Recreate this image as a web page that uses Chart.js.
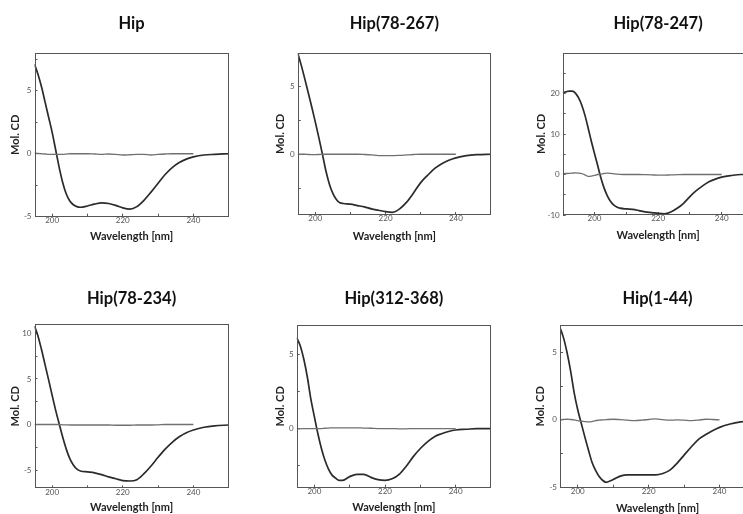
<!DOCTYPE html>
<html>
<head>
<meta charset="utf-8">
<script src="https://cdn.jsdelivr.net/npm/chart.js@4.4.0/dist/chart.umd.min.js"></script>
<style>
  html, body { margin: 0; padding: 0; background: #fff; overflow: hidden; }
  body { width: 743px; height: 514px; position: relative; }
  canvas { position: absolute; }
</style>
</head>
<body>
<canvas id="c1"></canvas>
<canvas id="c2"></canvas>
<canvas id="c3"></canvas>
<canvas id="c4"></canvas>
<canvas id="c5"></canvas>
<canvas id="c6"></canvas>
<script>
// Wavelengths (nm) the spectra are read at
const wavelengths = [195,196,197,198,199,200,201,202,203,204,205,206,207,208,210,212,214,216,218,220,222,224,226,228,230,232,234,236,238,240,243,246,250];
const wavelengths190 = [190,191,192,193,194,195,196,197,198,199,200,201,202,203,204,205,206,207,208,210,212,214,216,218,220,222,224,226,228,230,232,234,236,238,240,243,246,250];

// Mol. CD spectra (dark line) and buffer baselines (grey line)
const hipCD      = [7.1,6.3,5.3,4.1,2.9,1.7,0.3,-1.1,-2.3,-3.2,-3.75,-4.05,-4.2,-4.25,-4.15,-4.0,-3.9,-3.95,-4.1,-4.3,-4.4,-4.2,-3.7,-3.05,-2.35,-1.65,-1.1,-0.7,-0.43,-0.25,-0.1,-0.05,0];
const hipBase    = [0.05,0.02,0,-0.02,-0.05,-0.05,-0.05,-0.05,-0.05,-0.03,0,0,0,0,0,-0.02,-0.05,-0.02,-0.05,-0.1,-0.08,-0.05,-0.05,-0.1,-0.05,-0.02,0,0,0,0,null,null,null];

const hip78_267CD   = [7.5,6.6,5.6,4.55,3.5,2.4,1.25,0.05,-1.2,-2.2,-2.9,-3.35,-3.6,-3.65,-3.7,-3.8,-3.9,-4.05,-4.15,-4.25,-4.3,-4.05,-3.55,-2.85,-2.1,-1.55,-1.05,-0.7,-0.45,-0.27,-0.1,-0.03,0];
const hip78_267Base = [0,0,0,-0.02,-0.03,-0.03,-0.02,0,0,0,0,0,0,0,0,0,-0.02,-0.05,-0.1,-0.1,-0.1,-0.08,-0.05,-0.02,0,0,0,0,0,0,null,null,null];

const hip78_247CD   = [20.2,20.4,20.6,20.6,20.1,18.9,17.1,14.6,11.5,8.2,5.2,2.2,-0.8,-3.3,-5.2,-6.6,-7.5,-8.0,-8.3,-8.5,-8.6,-8.9,-9.25,-9.4,-9.6,-9.7,-9.25,-8.35,-7.1,-5.45,-4.0,-2.8,-1.8,-1.15,-0.65,-0.25,0,0];
const hip78_247Base = [0.2,0.25,0.3,0.35,0.4,0.35,0.2,-0.1,-0.45,-0.4,-0.2,0,0.1,0.25,0.35,0.3,0.2,0.1,0.05,0,0,0,-0.05,-0.1,-0.15,-0.15,-0.1,-0.05,0,0,0,0,0,0,0,null,null,null];

const hip78_234CD   = [10.8,9.7,8.2,6.55,4.9,3.2,1.55,0.05,-1.4,-2.7,-3.75,-4.45,-4.9,-5.1,-5.2,-5.3,-5.5,-5.75,-5.95,-6.15,-6.2,-6.05,-5.4,-4.55,-3.6,-2.7,-1.95,-1.35,-0.9,-0.6,-0.3,-0.15,-0.05];
const hip78_234Base = [0,0,0,0,0,0,0,0,-0.03,-0.03,-0.05,-0.05,-0.05,-0.05,-0.05,-0.05,-0.05,-0.05,-0.08,-0.08,-0.08,-0.05,-0.05,-0.05,-0.03,0,0,0,0,0,null,null,null];

const hip312_368CD   = [6.15,5.6,4.7,3.5,2.0,0.8,-0.35,-1.35,-2.15,-2.75,-3.15,-3.35,-3.5,-3.5,-3.25,-3.1,-3.1,-3.3,-3.45,-3.5,-3.4,-3.1,-2.55,-1.9,-1.35,-0.9,-0.55,-0.35,-0.2,-0.1,-0.05,0,0];
const hip312_368Base = [-0.02,-0.02,0,0,0,0,0,0,0.02,0.03,0.05,0.05,0.05,0.05,0.05,0.05,0.03,0.02,0,0,0,-0.02,-0.02,0,0,0,0,0,0,0,null,null,null];

const hip1_44CD   = [6.8,6.05,4.95,3.6,2.0,0.75,-0.25,-1.25,-2.2,-3.1,-3.7,-4.15,-4.45,-4.6,-4.4,-4.15,-4.05,-4.05,-4.05,-4.05,-4.05,-3.95,-3.7,-3.2,-2.6,-2.0,-1.45,-1.1,-0.8,-0.55,-0.3,-0.15,-0.05];
const hip1_44Base = [0,0.03,0.05,0.03,0,-0.05,-0.1,-0.12,-0.15,-0.12,-0.05,-0.02,0,0.02,0.05,0.02,-0.02,-0.05,-0.02,0.03,0.08,0.02,-0.02,0,-0.02,-0.05,-0.02,0.05,0.03,0,null,null,null];

// Axis ticks
const xTicks = [200,210,220,230,240];
const xTickLabels = [200,220,240];
const yTicksSmall = [-7.5,-5,-2.5,0,2.5,5,7.5,10];
const yTicksLarge = [-10,-5,0,5,10,15,20,25];

const titles = ['Hip','Hip(78-267)','Hip(78-247)','Hip(78-234)','Hip(312-368)','Hip(1-44)'];

// panel layout (page pixels)
const panels = [
  { id:'c1', x: wavelengths,    cd: hipCD,        base: hipBase,        ymin:-5,  ymax:8,   yt: yTicksSmall, lab:5,
    left:0,   top:0,   w:250, h:257, L:34.5,  R:228.7, T:53,    B:216.7, titleY:24,    xTitleY:236,   yTitleX:15.7, xmin:195 },
  { id:'c2', x: wavelengths,    cd: hip78_267CD,  base: hip78_267Base,  ymin:-4.5,ymax:7.5, yt: yTicksSmall, lab:5,
    left:250, top:0,   w:250, h:257, L:297.7, R:491,   T:53,    B:215,   titleY:24,    xTitleY:236,   yTitleX:280,  xmin:195 },
  { id:'c3', x: wavelengths190, cd: hip78_247CD,  base: hip78_247Base,  ymin:-10, ymax:30,  yt: yTicksLarge, lab:10,
    left:500, top:0,   w:262, h:257, L:562.7, R:753.5, T:53,    B:215,   titleY:24,    xTitleY:235.5, yTitleX:541.7, xmin:190 },
  { id:'c4', x: wavelengths,    cd: hip78_234CD,  base: hip78_234Base,  ymin:-7,  ymax:11,  yt: yTicksSmall, lab:5,
    left:0,   top:257, w:250, h:257, L:34.5,  R:228.7, T:324.3, B:488.3, titleY:298.3, xTitleY:507.7, yTitleX:15.7, xmin:195 },
  { id:'c5', x: wavelengths,    cd: hip312_368CD, base: hip312_368Base, ymin:-4,  ymax:7,   yt: yTicksSmall, lab:5,
    left:250, top:257, w:250, h:257, L:296.7, R:491,   T:325,   B:487.7, titleY:298.3, xTitleY:507.7, yTitleX:280,  xmin:195 },
  { id:'c6', x: wavelengths,    cd: hip1_44CD,    base: hip1_44Base,    ymin:-5,  ymax:7,   yt: yTicksSmall, lab:5,
    left:500, top:257, w:262, h:257, L:560,   R:755,   T:325,   B:487.7, titleY:299,   xTitleY:508.3, yTitleX:540,  xmin:195 }
];

// draw the closed frame round the plot area
const framePlugin = {
  id: 'frame',
  afterDatasetsDraw(chart) {
    const a = chart.chartArea;
    const ctx = chart.ctx;
    ctx.save();
    ctx.strokeStyle = '#555';
    ctx.lineWidth = 1;
    ctx.strokeRect(Math.round(a.left) + 0.5, Math.round(a.top) + 0.5,
                   Math.round(a.right - a.left) - 1, Math.round(a.bottom - a.top) - 1);
    ctx.restore();
  }
};

Chart.defaults.font.family = 'Lato, "Open Sans", sans-serif';

panels.forEach((p, i) => {
  const canvas = document.getElementById(p.id);
  canvas.width = p.w;
  canvas.height = p.h;
  canvas.style.left = p.left + 'px';
  canvas.style.top = p.top + 'px';

  const titleLH = 16.5 * 1.2;
  const axisLH = 11 * 1.2;

  new Chart(canvas, {
    type: 'line',
    data: {
      labels: p.x,
      datasets: [
        { data: p.base, borderColor: '#707070', borderWidth: 1.3, pointRadius: 0, cubicInterpolationMode: 'monotone', spanGaps: false },
        { data: p.cd, borderColor: '#2b2b2b', borderWidth: 1.7, pointRadius: 0, cubicInterpolationMode: 'monotone' }
      ]
    },
    options: {
      responsive: false,
      animation: false,
      devicePixelRatio: 1,
      layout: { padding: { left: 0, top: 0, bottom: 0, right: p.w - (p.R - p.left) } },
      plugins: {
        legend: { display: false },
        tooltip: { enabled: false },
        title: {
          display: true,
          text: titles[i],
          fullSize: false,
          color: '#111',
          font: { size: 16.5, weight: 'bold' },
          padding: { top: p.titleY - p.top - titleLH / 2, bottom: (p.T - p.top) - (p.titleY - p.top + titleLH / 2) }
        }
      },
      scales: {
        x: {
          type: 'linear',
          min: p.xmin,
          max: 250,
          afterBuildTicks: s => { s.ticks = xTicks.map(v => ({ value: v })); },
          afterFit: s => { s.height = (p.top + p.h) - p.B; },
          ticks: {
            autoSkip: false,
            maxRotation: 0,
            padding: 2,
            color: '#555',
            font: { size: 8 },
            callback: v => xTickLabels.includes(v) ? String(v) : ''
          },
          grid: { drawOnChartArea: false, drawTicks: true, tickLength: -3, color: '#555' },
          border: { display: false },
          title: {
            display: true,
            text: 'Wavelength [nm]',
            color: '#222',
            font: { size: 11, weight: 'bold' },
            padding: { top: 0, bottom: (p.top + p.h) - p.xTitleY - axisLH / 2 }
          }
        },
        y: {
          min: p.ymin,
          max: p.ymax,
          afterBuildTicks: s => { s.ticks = p.yt.filter(v => v >= p.ymin && v <= p.ymax).map(v => ({ value: v })); },
          afterFit: s => { s.width = p.L - p.left; },
          ticks: {
            autoSkip: false,
            padding: 6,
            color: '#555',
            font: { size: 8 },
            callback: v => v % p.lab === 0 ? String(v) : ''
          },
          grid: { drawOnChartArea: false, drawTicks: true, tickLength: -3, color: '#555' },
          border: { display: false },
          title: {
            display: true,
            text: 'Mol. CD',
            color: '#222',
            font: { size: 11, weight: 'bold' },
            padding: { top: p.yTitleX - p.left - axisLH / 2, bottom: 0 }
          }
        }
      }
    },
    plugins: [framePlugin]
  });
});
</script>
</body>
</html>
